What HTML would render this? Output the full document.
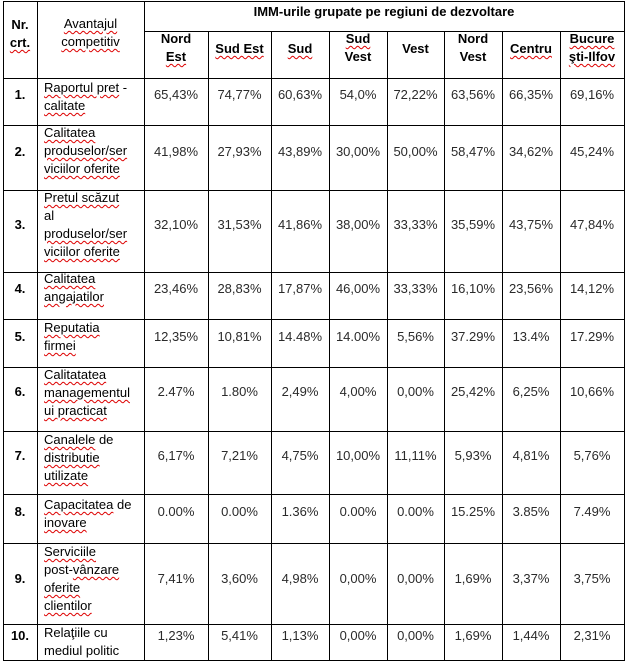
<!DOCTYPE html>
<html><head><meta charset="utf-8"><style>
body{margin:0;width:627px;height:663px;background:#fff;position:relative;overflow:hidden;font-family:"Liberation Sans",Arial,sans-serif;font-size:13px;color:#000}
.h,.v{position:absolute;background:#000}
.h{height:1px;left:3px;width:622px}
.v{width:1px;top:1px;height:660px}
.t{position:absolute;white-space:nowrap}
.c{text-align:center;height:16px;line-height:16px;color:#2a2a2a}
.n{font-weight:bold;color:#000;text-align:center;height:16px;line-height:16px}
.l{left:44px;line-height:18px}
.b{font-weight:bold;text-align:center;line-height:18px}
.w{text-decoration:underline wavy #d00;text-decoration-thickness:1px;text-underline-offset:2px}
</style></head><body>
<div class="h" style="top:1px"></div>
<div class="h" style="top:31px;left:144px;width:481px"></div>
<div class="h" style="top:78px"></div>
<div class="h" style="top:125px"></div>
<div class="h" style="top:190px"></div>
<div class="h" style="top:272px"></div>
<div class="h" style="top:319px"></div>
<div class="h" style="top:367px"></div>
<div class="h" style="top:431px"></div>
<div class="h" style="top:494px"></div>
<div class="h" style="top:543px"></div>
<div class="h" style="top:624px"></div>
<div class="h" style="top:660px"></div>
<div class="v" style="left:3px"></div>
<div class="v" style="left:37px"></div>
<div class="v" style="left:144px"></div>
<div class="v" style="left:208px;top:31px;height:630px"></div>
<div class="v" style="left:271px;top:31px;height:630px"></div>
<div class="v" style="left:329px;top:31px;height:630px"></div>
<div class="v" style="left:387px;top:31px;height:630px"></div>
<div class="v" style="left:444px;top:31px;height:630px"></div>
<div class="v" style="left:502px;top:31px;height:630px"></div>
<div class="v" style="left:560px;top:31px;height:630px"></div>
<div class="v" style="left:624px"></div>

<div class="t b" style="left:3px;width:34px;top:16px"><span>Nr.</span><br><span class="w">crt.</span></div>
<div class="t" style="left:37px;width:107px;top:15px;text-align:center;line-height:18px"><span class="w">Avantajul</span><br><span class="w">competitiv</span></div>
<div class="t b" style="left:144px;width:480px;top:3px">IMM-urile grupate pe regiuni de dezvoltare</div>
<div class="t b" style="left:144px;width:64px;top:30px">Nord<br><span class="w">Est</span></div>
<div class="t b" style="left:208px;width:63px;top:40px"><span class="w">Sud Est</span></div>
<div class="t b" style="left:271px;width:58px;top:40px"><span class="w">Sud</span></div>
<div class="t b" style="left:329px;width:58px;top:30px"><span class="w">Sud</span><br>Vest</div>
<div class="t b" style="left:387px;width:57px;top:40px">Vest</div>
<div class="t b" style="left:444px;width:58px;top:30px">Nord<br>Vest</div>
<div class="t b" style="left:502px;width:58px;top:40px"><span class="w">Centru</span></div>
<div class="t b" style="left:560px;width:64px;top:30px"><span class="w">Bucure</span><br><span class="w">şti-Ilfov</span></div>

<div class="t l" style="top:79px"><span class="w">Raportul pret</span> -<br><span class="w">calitate</span></div>
<div class="t l" style="top:124px"><span class="w">Calitatea</span><br><span class="w">produselor/ser</span><br><span class="w">viciilor oferite</span></div>
<div class="t l" style="top:189px"><span class="w">Pretul scăzut</span><br>al<br><span class="w">produselor/ser</span><br><span class="w">viciilor oferite</span></div>
<div class="t l" style="top:270px"><span class="w">Calitatea</span><br><span class="w">angajatilor</span></div>
<div class="t l" style="top:319px"><span class="w">Reputatia</span><br><span class="w">firmei</span></div>
<div class="t l" style="top:366px"><span class="w">Calitatatea</span><br><span class="w">managementul</span><br><span class="w">ui practicat</span></div>
<div class="t l" style="top:431px"><span class="w">Canalele</span> de<br><span class="w">distributie</span><br><span class="w">utilizate</span></div>
<div class="t l" style="top:496px"><span class="w">Capacitatea</span> de<br><span class="w">inovare</span></div>
<div class="t l" style="top:543px"><span class="w">Serviciile</span><br>post-<span class="w">vânzare</span><br><span class="w">oferite</span><br><span class="w">clientilor</span></div>
<div class="t l" style="top:624px">Relaţiile cu<br>mediul politic</div>

<div class="t n" style="left:3px;width:34px;top:87px">1.</div>
<div class="t n" style="left:3px;width:34px;top:144px">2.</div>
<div class="t n" style="left:3px;width:34px;top:217px">3.</div>
<div class="t n" style="left:3px;width:34px;top:281px">4.</div>
<div class="t n" style="left:3px;width:34px;top:329px">5.</div>
<div class="t n" style="left:3px;width:34px;top:384px">6.</div>
<div class="t n" style="left:3px;width:34px;top:448px">7.</div>
<div class="t n" style="left:3px;width:34px;top:504px">8.</div>
<div class="t n" style="left:3px;width:34px;top:571px">9.</div>
<div class="t n" style="left:3px;width:34px;top:628px">10.</div>

<div class="t c" style="left:144px;width:64px;top:87px">65,43%</div>
<div class="t c" style="left:208px;width:63px;top:87px">74,77%</div>
<div class="t c" style="left:271px;width:58px;top:87px">60,63%</div>
<div class="t c" style="left:329px;width:58px;top:87px">54,0%</div>
<div class="t c" style="left:387px;width:57px;top:87px">72,22%</div>
<div class="t c" style="left:444px;width:58px;top:87px">63,56%</div>
<div class="t c" style="left:502px;width:58px;top:87px">66,35%</div>
<div class="t c" style="left:560px;width:64px;top:87px">69,16%</div>
<div class="t c" style="left:144px;width:64px;top:144px">41,98%</div>
<div class="t c" style="left:208px;width:63px;top:144px">27,93%</div>
<div class="t c" style="left:271px;width:58px;top:144px">43,89%</div>
<div class="t c" style="left:329px;width:58px;top:144px">30,00%</div>
<div class="t c" style="left:387px;width:57px;top:144px">50,00%</div>
<div class="t c" style="left:444px;width:58px;top:144px">58,47%</div>
<div class="t c" style="left:502px;width:58px;top:144px">34,62%</div>
<div class="t c" style="left:560px;width:64px;top:144px">45,24%</div>
<div class="t c" style="left:144px;width:64px;top:217px">32,10%</div>
<div class="t c" style="left:208px;width:63px;top:217px">31,53%</div>
<div class="t c" style="left:271px;width:58px;top:217px">41,86%</div>
<div class="t c" style="left:329px;width:58px;top:217px">38,00%</div>
<div class="t c" style="left:387px;width:57px;top:217px">33,33%</div>
<div class="t c" style="left:444px;width:58px;top:217px">35,59%</div>
<div class="t c" style="left:502px;width:58px;top:217px">43,75%</div>
<div class="t c" style="left:560px;width:64px;top:217px">47,84%</div>
<div class="t c" style="left:144px;width:64px;top:281px">23,46%</div>
<div class="t c" style="left:208px;width:63px;top:281px">28,83%</div>
<div class="t c" style="left:271px;width:58px;top:281px">17,87%</div>
<div class="t c" style="left:329px;width:58px;top:281px">46,00%</div>
<div class="t c" style="left:387px;width:57px;top:281px">33,33%</div>
<div class="t c" style="left:444px;width:58px;top:281px">16,10%</div>
<div class="t c" style="left:502px;width:58px;top:281px">23,56%</div>
<div class="t c" style="left:560px;width:64px;top:281px">14,12%</div>
<div class="t c" style="left:144px;width:64px;top:329px">12,35%</div>
<div class="t c" style="left:208px;width:63px;top:329px">10,81%</div>
<div class="t c" style="left:271px;width:58px;top:329px">14.48%</div>
<div class="t c" style="left:329px;width:58px;top:329px">14.00%</div>
<div class="t c" style="left:387px;width:57px;top:329px">5,56%</div>
<div class="t c" style="left:444px;width:58px;top:329px">37.29%</div>
<div class="t c" style="left:502px;width:58px;top:329px">13.4%</div>
<div class="t c" style="left:560px;width:64px;top:329px">17.29%</div>
<div class="t c" style="left:144px;width:64px;top:384px">2.47%</div>
<div class="t c" style="left:208px;width:63px;top:384px">1.80%</div>
<div class="t c" style="left:271px;width:58px;top:384px">2,49%</div>
<div class="t c" style="left:329px;width:58px;top:384px">4,00%</div>
<div class="t c" style="left:387px;width:57px;top:384px">0,00%</div>
<div class="t c" style="left:444px;width:58px;top:384px">25,42%</div>
<div class="t c" style="left:502px;width:58px;top:384px">6,25%</div>
<div class="t c" style="left:560px;width:64px;top:384px">10,66%</div>
<div class="t c" style="left:144px;width:64px;top:448px">6,17%</div>
<div class="t c" style="left:208px;width:63px;top:448px">7,21%</div>
<div class="t c" style="left:271px;width:58px;top:448px">4,75%</div>
<div class="t c" style="left:329px;width:58px;top:448px">10,00%</div>
<div class="t c" style="left:387px;width:57px;top:448px">11,11%</div>
<div class="t c" style="left:444px;width:58px;top:448px">5,93%</div>
<div class="t c" style="left:502px;width:58px;top:448px">4,81%</div>
<div class="t c" style="left:560px;width:64px;top:448px">5,76%</div>
<div class="t c" style="left:144px;width:64px;top:504px">0.00%</div>
<div class="t c" style="left:208px;width:63px;top:504px">0.00%</div>
<div class="t c" style="left:271px;width:58px;top:504px">1.36%</div>
<div class="t c" style="left:329px;width:58px;top:504px">0.00%</div>
<div class="t c" style="left:387px;width:57px;top:504px">0.00%</div>
<div class="t c" style="left:444px;width:58px;top:504px">15.25%</div>
<div class="t c" style="left:502px;width:58px;top:504px">3.85%</div>
<div class="t c" style="left:560px;width:64px;top:504px">7.49%</div>
<div class="t c" style="left:144px;width:64px;top:571px">7,41%</div>
<div class="t c" style="left:208px;width:63px;top:571px">3,60%</div>
<div class="t c" style="left:271px;width:58px;top:571px">4,98%</div>
<div class="t c" style="left:329px;width:58px;top:571px">0,00%</div>
<div class="t c" style="left:387px;width:57px;top:571px">0,00%</div>
<div class="t c" style="left:444px;width:58px;top:571px">1,69%</div>
<div class="t c" style="left:502px;width:58px;top:571px">3,37%</div>
<div class="t c" style="left:560px;width:64px;top:571px">3,75%</div>
<div class="t c" style="left:144px;width:64px;top:628px">1,23%</div>
<div class="t c" style="left:208px;width:63px;top:628px">5,41%</div>
<div class="t c" style="left:271px;width:58px;top:628px">1,13%</div>
<div class="t c" style="left:329px;width:58px;top:628px">0,00%</div>
<div class="t c" style="left:387px;width:57px;top:628px">0,00%</div>
<div class="t c" style="left:444px;width:58px;top:628px">1,69%</div>
<div class="t c" style="left:502px;width:58px;top:628px">1,44%</div>
<div class="t c" style="left:560px;width:64px;top:628px">2,31%</div>
</body></html>
